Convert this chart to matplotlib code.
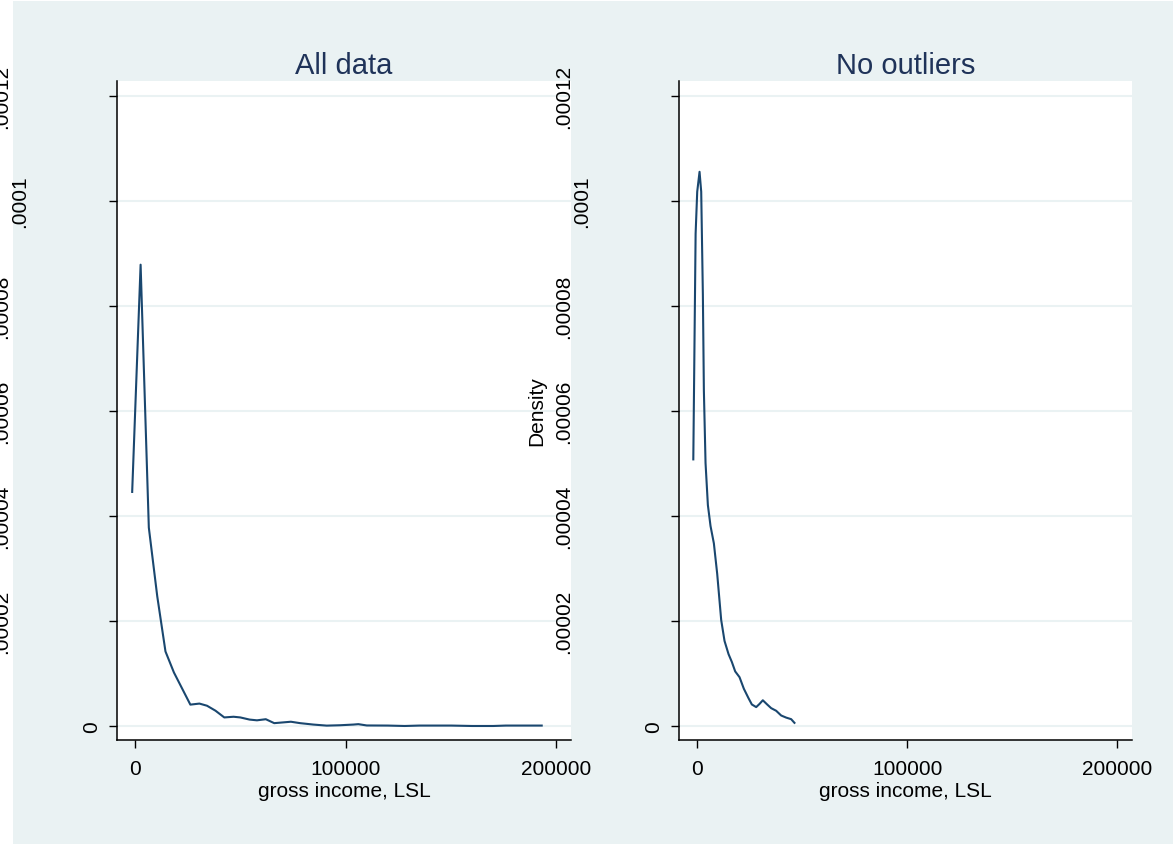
# Densidad del ingreso bruto: todos los datos vs. sin valores atípicos (estilo Stata s2color)
import matplotlib
matplotlib.use('Agg')
import matplotlib.pyplot as plt
from matplotlib.patches import Rectangle
from matplotlib.transforms import ScaledTranslation

plt.rcParams['font.family'] = ['Liberation Sans', 'DejaVu Sans']

# Datos
titulos = ['All data', 'No outliers']
etiqueta_x = 'gross income, LSL'
etiqueta_y = 'Density'
xticks = [0, 100000, 200000]
xtick_labels = ['0', '100000', '200000']
yticks = [0, 0.00002, 0.00004, 0.00006, 0.00008, 0.0001, 0.00012]
ytick_labels = ['0', '.00002', '.00004', '.00006', '.00008', '.0001', '.00012']

ingreso_todos = [-1300, 2700, 6600, 10600, 14500, 18500, 26300, 30600, 34200, 38200,
                 42400, 46800, 50000, 54400, 57900, 62100, 66100, 70200, 74000, 78400,
                 84700, 91000, 97300, 103600, 106000, 110000, 120000, 128000, 135000,
                 150000, 160000, 170000, 176000, 193000]
densidad_todos = [4.46e-5, 8.79e-5, 3.78e-5, 2.47e-5, 1.42e-5, 1.02e-5, 4.07e-6, 4.27e-6,
                  3.86e-6, 2.92e-6, 1.63e-6, 1.76e-6, 1.63e-6, 1.22e-6, 1.08e-6, 1.29e-6,
                  0.54e-6, 0.68e-6, 0.81e-6, 0.54e-6, 0.27e-6, 0.07e-6, 0.14e-6, 0.27e-6,
                  0.35e-6, 0.1e-6, 0.08e-6, 0.0, 0.08e-6, 0.08e-6, 0.0, 0.0, 0.08e-6, 0.08e-6]

ingreso_sin = [-1700, -600, 160, 1270, 2060, 2850, 3330, 4120, 5230, 6490, 8080, 9660,
               11560, 13150, 15050, 16630, 18220, 20280, 22330, 24550, 26140, 28200,
               29780, 31360, 33420, 35320, 37700, 40080, 42450, 44830, 46400]
densidad_sin = [5.08e-5, 9.38e-5, 1.018e-4, 1.056e-4, 1.018e-4, 8.22e-5, 6.39e-5, 5.01e-5,
                4.21e-5, 3.81e-5, 3.48e-5, 2.90e-5, 2.02e-5, 1.62e-5, 1.37e-5, 1.22e-5,
                1.04e-5, 0.93e-5, 0.71e-5, 0.53e-5, 0.41e-5, 0.36e-5, 0.42e-5, 0.49e-5,
                0.41e-5, 0.34e-5, 0.29e-5, 0.20e-5, 0.16e-5, 0.13e-5, 0.06e-5]

# Colores del esquema
fondo = '#EAF2F3'
linea = '#1A476F'
color_titulo = '#1F3359'

fig = plt.figure(figsize=(11.73, 8.45), dpi=100, facecolor='white')
# Región del gráfico (gris azulado) con un pequeño borde blanco a la izquierda
fig.patches.append(Rectangle((13 / 1173, 0), 1, 1 - 2 / 845, transform=fig.transFigure,
                             facecolor=fondo, edgecolor='none', zorder=-10))

ax1 = fig.add_axes([117 / 1173, 104 / 845, 454 / 1173, 659 / 845])
ax2 = fig.add_axes([679 / 1173, 104 / 845, 453 / 1173, 659 / 845])

series = [(ingreso_todos, densidad_todos), (ingreso_sin, densidad_sin)]

for ax, titulo, (xs, ys) in zip([ax1, ax2], titulos, series):
    ax.set_facecolor('white')
    ax.plot(xs, ys, color=linea, linewidth=1.5, zorder=3)
    ax.set_xlim(-8500, 206900)
    ax.set_ylim(-2.67e-6, 1.229e-4)
    ax.set_xticks(xticks, xtick_labels)
    ax.set_yticks(yticks, ytick_labels)
    ax.grid(axis='y', color=fondo, linewidth=1.5, zorder=1)
    ax.grid(axis='x', visible=False)
    for lado in ['top', 'right']:
        ax.spines[lado].set_visible(False)
    for lado in ['left', 'bottom']:
        ax.spines[lado].set_linewidth(1.1)
        ax.spines[lado].set_color('black')
    ax.tick_params(axis='both', direction='out', length=5.8, width=1.0, color='black',
                   labelsize=15, labelcolor='black')
    ax.tick_params(axis='x', pad=8)
    ax.tick_params(axis='y', pad=12.2, labelrotation=90)
    ax.set_title(titulo, fontsize=21, color=color_titulo, pad=6)
    ax.set_xlabel(etiqueta_x, fontsize=15, labelpad=2)
    # Las etiquetas del eje y giradas se desplazan según su longitud, como en Stata
    for lbl, txt in zip(ax.get_yticklabels(), ytick_labels):
        lbl.set_ha('center')
        lbl.set_va('center')
        desplazamiento = 18 * (len(txt) - 1) / 100
        lbl.set_transform(lbl.get_transform() +
                          ScaledTranslation(-desplazamiento, 0, fig.dpi_scale_trans))

ax2.set_ylabel(etiqueta_y, fontsize=15, va='center', ha='center')
ax2.yaxis.set_label_coords(-0.3135, 0.5)

fig.savefig('out.png', dpi=100, facecolor=fig.get_facecolor())
